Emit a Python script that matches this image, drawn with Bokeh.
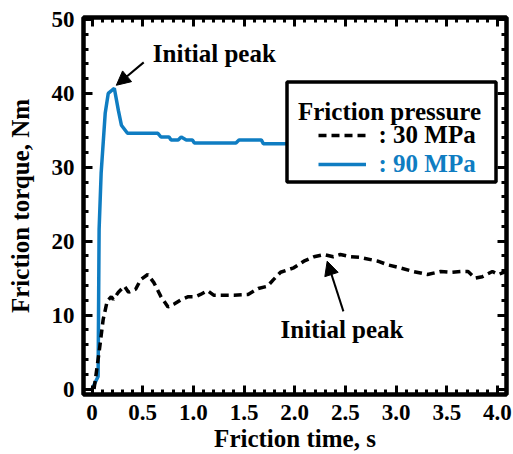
import numpy as np
from bokeh.plotting import figure
from bokeh.models import (Range1d, FixedTicker, LinearAxis, Legend, LegendItem,
                          Label, Arrow, NormalHead, BoxAnnotation)
from bokeh.embed import file_html
from bokeh.resources import INLINE

# ---- data ----
time_90 = [0.0, 0.06, 0.07, 0.09, 0.13, 0.16, 0.22, 0.26, 0.29, 0.35, 0.65, 0.68,
           0.76, 0.78, 0.85, 0.88, 0.93, 0.99, 1.01, 1.42, 1.45, 1.67, 1.69, 2.10]
torque_90 = [0.0, 1.7, 21.6, 29.2, 37.3, 40.0, 40.7, 37.7, 35.7, 34.6, 34.6, 34.1,
             34.1, 33.7, 33.7, 34.1, 33.7, 33.7, 33.3, 33.3, 33.7, 33.7, 33.2, 33.2]

time_30 = [0.02, 0.07, 0.11, 0.15, 0.19, 0.21, 0.26, 0.32, 0.36, 0.43, 0.48, 0.55,
           0.61, 0.68, 0.75, 0.81, 0.88, 0.95, 1.02, 1.07, 1.14, 1.20, 1.40, 1.54,
           1.64, 1.73, 1.79, 1.86, 1.99, 2.09, 2.19, 2.29, 2.38, 2.45, 2.55, 2.65,
           2.82, 2.92, 3.04, 3.17, 3.31, 3.44, 3.54, 3.64, 3.71, 3.78, 3.85, 3.95,
           4.01, 4.08]
torque_30 = [0.0, 5.0, 9.4, 11.9, 12.5, 12.1, 13.1, 13.9, 13.1, 13.5, 14.8, 15.5,
             14.4, 12.5, 11.1, 11.5, 12.1, 12.5, 12.5, 12.8, 13.3, 12.7, 12.7, 12.8,
             13.6, 13.9, 14.8, 15.8, 16.4, 17.3, 17.9, 18.2, 17.9, 18.2, 17.9, 17.8,
             17.3, 16.8, 16.4, 15.9, 15.5, 15.9, 15.8, 15.9, 15.9, 15.0, 15.2, 15.9,
             15.5, 15.9]

x_ticks = [0, 0.5, 1.0, 1.5, 2.0, 2.5, 3.0, 3.5, 4.0]
x_tick_labels = ["0", "0.5", "1.0", "1.5", "2.0", "2.5", "3.0", "3.5", "4.0"]
y_ticks = [0, 10, 20, 30, 40, 50]
y_tick_labels = ["0", "10", "20", "30", "40", "50"]

series_labels = [": 30 MPa", ": 90 MPa"]

FONT = "Liberation Serif"
BLUE = "#0F7DC2"

x_minor = [round(v, 2) for v in np.arange(0.0, 4.11, 0.1)]
y_minor = list(range(0, 51, 2))

p = figure(width=513, height=454, output_backend="svg", toolbar_location=None,
           x_range=Range1d(-0.084, 4.089), y_range=Range1d(-0.74, 50.27),
           min_border_left=83, min_border_top=17, min_border_right=7,
           min_border_bottom=0)
p.xgrid.visible = False
p.ygrid.visible = False
p.outline_line_color = "black"
p.outline_line_width = 4.5
p.outline_line_alpha = 1.0
p.background_fill_color = "white"
p.border_fill_color = "white"


def style_axis(ax, ticks, minor, labels):
    ax.ticker = FixedTicker(ticks=ticks, minor_ticks=minor)
    ax.axis_line_color = None
    ax.major_tick_in = 9
    ax.major_tick_out = 0
    ax.minor_tick_in = 5
    ax.minor_tick_out = 0
    ax.major_tick_line_width = 3
    ax.minor_tick_line_width = 3
    ax.major_tick_line_color = "black"
    ax.minor_tick_line_color = "black"
    if labels is not None:
        ax.major_label_overrides = dict(zip(ticks, labels))
        ax.major_label_text_font = FONT
        ax.major_label_text_font_style = "bold"
        ax.major_label_text_font_size = "23px"
        ax.major_label_text_color = "black"
        ax.axis_label_text_font = FONT
        ax.axis_label_text_font_style = "bold"
        ax.axis_label_text_font_size = "25px"
        ax.axis_label_text_color = "black"
    else:
        ax.major_label_overrides = {t: "" for t in ticks}
        ax.major_label_text_font_size = "0px"
        ax.major_label_standoff = 0


xa = p.xaxis[0]
ya = p.yaxis[0]
style_axis(xa, x_ticks, x_minor, x_tick_labels)
style_axis(ya, y_ticks, y_minor, y_tick_labels)
xa.axis_label = "Friction time, s"
ya.axis_label = "Friction torque, Nm"
xa.major_label_standoff = 10
xa.axis_label_standoff = 2
ya.major_label_standoff = 9
ya.axis_label_standoff = 15

top_ax = LinearAxis()
style_axis(top_ax, x_ticks, x_minor, None)
p.add_layout(top_ax, "above")
right_ax = LinearAxis()
style_axis(right_ax, y_ticks, y_minor, None)
p.add_layout(right_ax, "right")

r90 = p.line(time_90, torque_90, line_color=BLUE, line_width=3.5)
r30 = p.line(time_30, torque_30, line_color="black", line_width=3.5, line_dash="8 5")

# annotations
for (tx, ty), (x0, y0, x1, y1) in [((0.60, 45.4), (0.51, 44.2, 0.24, 41.1)),
                                   ((1.86, 8.0), (2.48, 10.5, 2.32, 17.3))]:
    p.add_layout(Label(x=tx, y=ty, text="Initial peak", text_baseline="middle",
                       text_font=FONT, text_font_style="bold",
                       text_font_size="25px", text_color="black"))
    p.add_layout(Arrow(x_start=x0, y_start=y0, x_end=x1, y_end=y1,
                       line_color="black", line_width=2,
                       end=NormalHead(size=14, fill_color="black",
                                      line_color="black", line_width=1)))

# legend box
box = BoxAnnotation(left=203.5, right=412.5, bottom=212.5, top=312.5,
                    left_units="screen", right_units="screen",
                    bottom_units="screen", top_units="screen",
                    fill_color="white", fill_alpha=1.0,
                    line_color="black", line_width=3.5, line_alpha=1.0)
p.add_layout(box)
p.add_layout(Label(x=214.5, y=283.5, x_units="screen", y_units="screen",
                   text="Friction pressure", text_baseline="alphabetic",
                   text_font=FONT, text_font_style="bold",
                   text_font_size="25px", text_color="black"))

for r, lab, col, ypos in [(r30, series_labels[0], "black", 245.5),
                          (r90, series_labels[1], BLUE, 216.5)]:
    leg = Legend(items=[LegendItem(label=lab, renderers=[r])],
                 location=(234.5, ypos), padding=0, spacing=0, margin=0,
                 glyph_width=48, glyph_height=28, label_height=28,
                 label_standoff=13, border_line_color=None,
                 background_fill_alpha=0.0,
                 label_text_font=FONT, label_text_font_style="bold",
                 label_text_font_size="25px", label_text_color=col)
    p.add_layout(leg)

open("out.html", "w").write(file_html(p, INLINE))
